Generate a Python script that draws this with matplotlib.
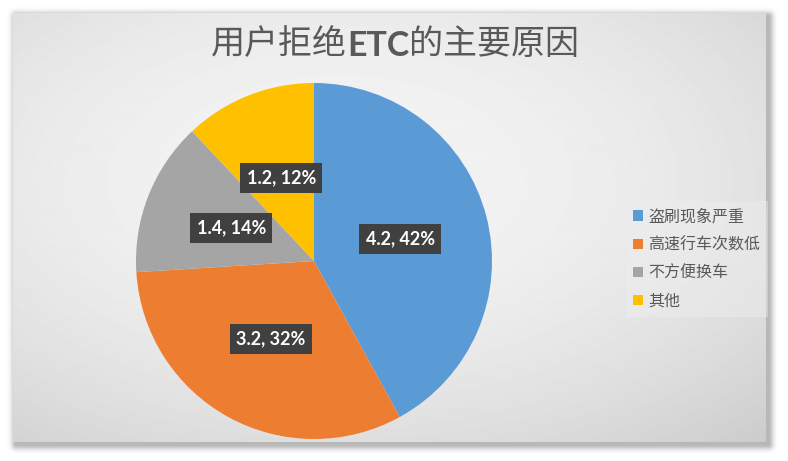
import numpy as np
import matplotlib
matplotlib.use("Agg")
import matplotlib.pyplot as plt

# 数据
labels = ['盗刷现象严重', '高速行车次数低', '不方便换车', '其他']
values = [4.2, 3.2, 1.4, 1.2]
colors = ['#5b9bd5', '#ed7d31', '#a5a5a5', '#ffc000']

W, H = 788, 461
fig = plt.figure(figsize=(W / 100, H / 100), dpi=100)
fig.patch.set_facecolor('white')

# 背景：带阴影的灰色渐变面板
bg = fig.add_axes([0, 0, 1, 1])
bg.set_axis_off()
yy, xx = np.mgrid[0:H, 0:W]
x0, x1, y0, y1 = 13, 765, 14, 441
d2 = ((xx - 340) / 390.0) ** 2 + ((yy - 180) / 220.0) ** 2
panel = 0.955 - 0.06 * d2


def rect_dist(ox, oy):
    dx = np.maximum(np.maximum(x0 + ox - xx, xx - x1 - ox), 0)
    dy = np.maximum(np.maximum(y0 + oy - yy, yy - y1 - oy), 0)
    return np.hypot(dx, dy)


dist = rect_dist(0, 0)
sdist = rect_dist(3, 3)
shadow = 1 - 0.28 * np.exp(-(sdist / 5.0) ** 2)
img = np.where(dist > 0, shadow, panel)
bg.imshow(img, cmap='gray', vmin=0, vmax=1, extent=[0, W, H, 0], aspect='auto')
bg.set_xlim(0, W)
bg.set_ylim(H, 0)

# 饼图
cx, cy, r = 314, 261, 178
ax = fig.add_axes([(cx - r) / W, (H - cy - r) / H, 2 * r / W, 2 * r / H])
total = sum(values)
wedges, _, autotexts = ax.pie(
    values, colors=colors, startangle=90, counterclock=False,
    autopct=lambda p: f"{p * total / 100:.1f}, {p:.0f}%", pctdistance=0.5,
    wedgeprops=dict(linewidth=0),
    textprops=dict(color='white', fontsize=13, fontweight='bold', family=['Lato', 'DejaVu Sans']))
for t in autotexts:
    t.set_bbox(dict(boxstyle='square,pad=0.35', facecolor='#404040', edgecolor='none'))
ax.set_xlim(-1, 1)
ax.set_ylim(-1, 1)
ax.set_aspect('equal')

# 图例
leg = fig.legend(wedges, labels, loc='upper left', bbox_to_anchor=(618 / W, 1 - 193 / H),
                 frameon=True, handlelength=0.6, handleheight=0.6, handletextpad=0.35,
                 labelspacing=0.7, borderpad=0.45, fancybox=False,
                 prop={'family': ['Noto Sans CJK SC'], 'size': 11.5})
leg.get_frame().set_facecolor('#eeeeee')
leg.get_frame().set_alpha(0.45)
leg.get_frame().set_edgecolor('none')
for t in leg.get_texts():
    t.set_color('#595959')
for h in leg.legend_handles:
    h.set_edgecolor('none')

# 标题（中文常规，ETC 加粗）
tc = '#595959'
fs = 24.5
t1 = fig.text(0, 1 - 54 / H, '用户拒绝', fontsize=fs, color=tc, family=['Noto Sans CJK SC'])
t2 = ax.annotate('ETC', xy=(1, 0), xycoords=t1, va='bottom', fontsize=fs, color=tc,
                 fontweight='bold', family=['Lato', 'DejaVu Sans'])
t3 = ax.annotate('的主要原因', xy=(1, 0), xycoords=t2, va='bottom', fontsize=fs, color=tc,
                 family=['Noto Sans CJK SC'])
fig.canvas.draw()
rend = fig.canvas.get_renderer()
left = t1.get_window_extent(rend).x0
right = t3.get_window_extent(rend).x1
t1.set_x((395 - (right - left) / 2) / W)

fig.savefig('out.png', dpi=100)
